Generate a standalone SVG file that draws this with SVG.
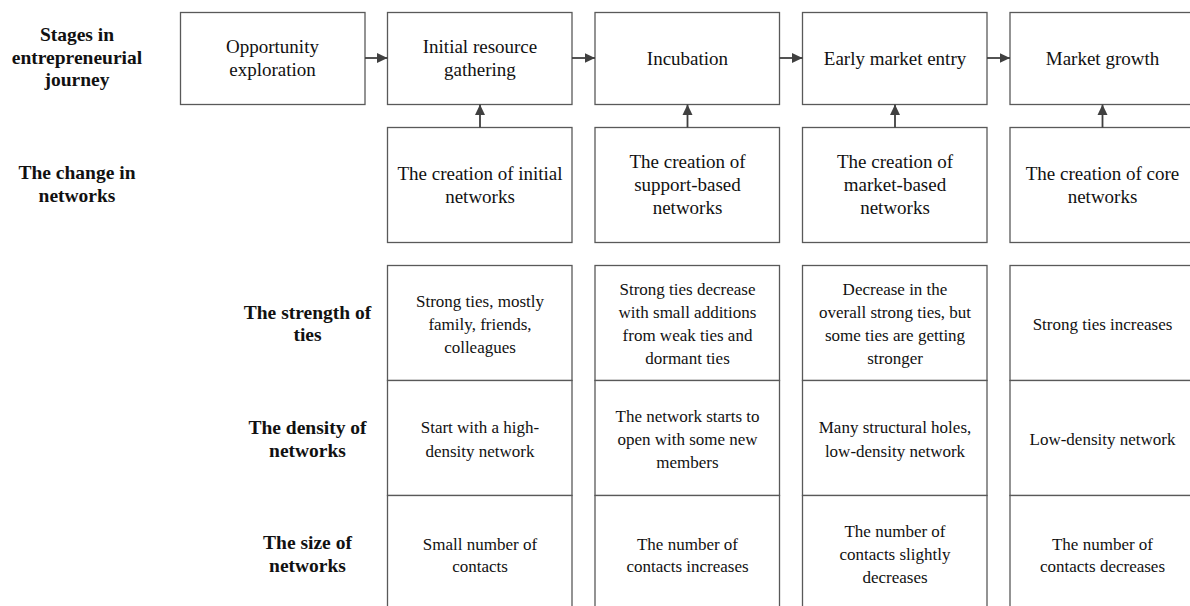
<svg xmlns="http://www.w3.org/2000/svg" width="1190" height="606" viewBox="0 0 1190 606">
  <style>
    .box { fill: #ffffff; stroke: #595959; stroke-width: 1.3; }
    .t { font-family: "Liberation Serif", "Times New Roman", serif; font-size: 19px; fill: #111; text-anchor: middle; }
    .s { font-family: "Liberation Serif", "Times New Roman", serif; font-size: 17px; fill: #111; text-anchor: middle; }
    .lbl { font-family: "Liberation Serif", "Times New Roman", serif; font-size: 19.5px; font-weight: bold; fill: #111; text-anchor: middle; }
    .arrow { stroke: #404040; stroke-width: 1.8; fill: none; marker-end: url(#head); }
  </style>
  <defs>
    <marker id="head" markerUnits="userSpaceOnUse" markerWidth="11" markerHeight="11" refX="10.5" refY="5.5" orient="auto">
      <path d="M0,0.5 L10.5,5.5 L0,10.5 Z" fill="#404040"/>
    </marker>
  </defs>
  <rect width="1190" height="606" fill="#ffffff"/>

  <!-- row labels -->
  <g id="label-stages">
    <text class="lbl"><tspan x="77" y="40.5">Stages in</tspan><tspan x="77" y="63.5">entrepreneurial</tspan><tspan x="77" y="86">journey</tspan></text>
  </g>
  <g id="label-change">
    <text class="lbl"><tspan x="77" y="178.5">The change in</tspan><tspan x="77" y="201.5">networks</tspan></text>
  </g>
  <g id="label-strength">
    <text class="lbl"><tspan x="307.5" y="318.5">The strength of</tspan><tspan x="307.5" y="341">ties</tspan></text>
  </g>
  <g id="label-density">
    <text class="lbl"><tspan x="307.5" y="433.5">The density of</tspan><tspan x="307.5" y="457">networks</tspan></text>
  </g>
  <g id="label-size">
    <text class="lbl"><tspan x="307.5" y="548.5">The size of</tspan><tspan x="307.5" y="572">networks</tspan></text>
  </g>

  <!-- stages -->
  <g id="stage-opportunity">
    <rect class="box" x="180.5" y="12.5" width="184.5" height="92"/>
    <text class="t"><tspan x="272.5" y="53">Opportunity</tspan><tspan x="272.5" y="76">exploration</tspan></text>
  </g>
  <g id="stage-initial">
    <rect class="box" x="387.5" y="12.5" width="184.5" height="92"/>
    <text class="t"><tspan x="480" y="53">Initial resource</tspan><tspan x="480" y="76">gathering</tspan></text>
  </g>
  <g id="stage-incubation">
    <rect class="box" x="595" y="12.5" width="184.5" height="92"/>
    <text class="t" x="687.5" y="64.5">Incubation</text>
  </g>
  <g id="stage-early">
    <rect class="box" x="802.5" y="12.5" width="184.5" height="92"/>
    <text class="t" x="895" y="64.5">Early market entry</text>
  </g>
  <g id="stage-growth">
    <rect class="box" x="1010" y="12.5" width="186" height="92"/>
    <text class="t" x="1102.5" y="64.5">Market growth</text>
  </g>

  <!-- network creation -->
  <g id="net-initial">
    <rect class="box" x="387.5" y="127.5" width="184.5" height="115"/>
    <text class="t"><tspan x="480" y="179.5">The creation of initial</tspan><tspan x="480" y="202.5">networks</tspan></text>
  </g>
  <g id="net-support">
    <rect class="box" x="595" y="127.5" width="184.5" height="115"/>
    <text class="t"><tspan x="687.5" y="168">The creation of</tspan><tspan x="687.5" y="191">support-based</tspan><tspan x="687.5" y="214">networks</tspan></text>
  </g>
  <g id="net-market">
    <rect class="box" x="802.5" y="127.5" width="184.5" height="115"/>
    <text class="t"><tspan x="895" y="168">The creation of</tspan><tspan x="895" y="191">market-based</tspan><tspan x="895" y="214">networks</tspan></text>
  </g>
  <g id="net-core">
    <rect class="box" x="1010" y="127.5" width="186" height="115"/>
    <text class="t"><tspan x="1102.5" y="179.5">The creation of core</tspan><tspan x="1102.5" y="202.5">networks</tspan></text>
  </g>

  <!-- characteristics columns -->
  <g id="col-initial">
    <rect class="box" x="387.5" y="265.5" width="184.5" height="115"/>
    <rect class="box" x="387.5" y="380.5" width="184.5" height="115"/>
    <rect class="box" x="387.5" y="495.5" width="184.5" height="130"/>
    <text class="s"><tspan x="480" y="307">Strong ties, mostly</tspan><tspan x="480" y="330">family, friends,</tspan><tspan x="480" y="353">colleagues</tspan></text>
    <text class="s"><tspan x="480" y="433">Start with a high-</tspan><tspan x="480" y="456.5">density network</tspan></text>
    <text class="s"><tspan x="480" y="549.5">Small number of</tspan><tspan x="480" y="572">contacts</tspan></text>
  </g>
  <g id="col-incubation">
    <rect class="box" x="595" y="265.5" width="184.5" height="115"/>
    <rect class="box" x="595" y="380.5" width="184.5" height="115"/>
    <rect class="box" x="595" y="495.5" width="184.5" height="130"/>
    <text class="s"><tspan x="687.5" y="294.5">Strong ties decrease</tspan><tspan x="687.5" y="317.5">with small additions</tspan><tspan x="687.5" y="340.5">from weak ties and</tspan><tspan x="687.5" y="364">dormant ties</tspan></text>
    <text class="s"><tspan x="687.5" y="422">The network starts to</tspan><tspan x="687.5" y="445">open with some new</tspan><tspan x="687.5" y="467.5">members</tspan></text>
    <text class="s"><tspan x="687.5" y="549.5">The number of</tspan><tspan x="687.5" y="572">contacts increases</tspan></text>
  </g>
  <g id="col-early">
    <rect class="box" x="802.5" y="265.5" width="184.5" height="115"/>
    <rect class="box" x="802.5" y="380.5" width="184.5" height="115"/>
    <rect class="box" x="802.5" y="495.5" width="184.5" height="130"/>
    <text class="s"><tspan x="895" y="294.5">Decrease in the</tspan><tspan x="895" y="317.5">overall strong ties, but</tspan><tspan x="895" y="340.5">some ties are getting</tspan><tspan x="895" y="364">stronger</tspan></text>
    <text class="s"><tspan x="895" y="433">Many structural holes,</tspan><tspan x="895" y="456.5">low-density network</tspan></text>
    <text class="s"><tspan x="895" y="537">The number of</tspan><tspan x="895" y="560">contacts slightly</tspan><tspan x="895" y="583">decreases</tspan></text>
  </g>
  <g id="col-growth">
    <rect class="box" x="1010" y="265.5" width="186" height="115"/>
    <rect class="box" x="1010" y="380.5" width="186" height="115"/>
    <rect class="box" x="1010" y="495.5" width="186" height="130"/>
    <text class="s" x="1102.5" y="330">Strong ties increases</text>
    <text class="s" x="1102.5" y="444.5">Low-density network</text>
    <text class="s"><tspan x="1102.5" y="549.5">The number of</tspan><tspan x="1102.5" y="572">contacts decreases</tspan></text>
  </g>

  <!-- connectors -->
  <g id="connectors">
    <line class="arrow" x1="365" y1="58" x2="387.5" y2="58"/>
    <line class="arrow" x1="572" y1="58" x2="595" y2="58"/>
    <line class="arrow" x1="779.5" y1="58" x2="802.5" y2="58"/>
    <line class="arrow" x1="987" y1="58" x2="1010" y2="58"/>
    <line class="arrow" x1="480" y1="127.5" x2="480" y2="104.5"/>
    <line class="arrow" x1="687.5" y1="127.5" x2="687.5" y2="104.5"/>
    <line class="arrow" x1="895" y1="127.5" x2="895" y2="104.5"/>
    <line class="arrow" x1="1102.5" y1="127.5" x2="1102.5" y2="104.5"/>
  </g>
</svg>
